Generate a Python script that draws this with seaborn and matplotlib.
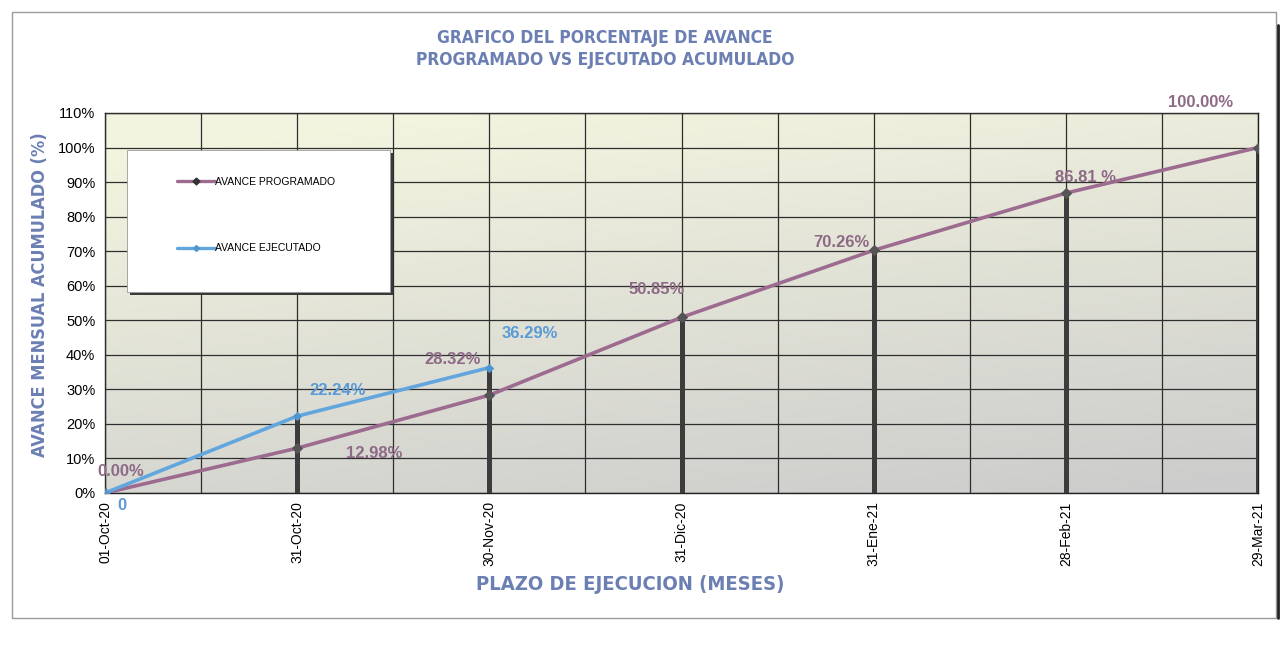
import numpy as np
import pandas as pd
import matplotlib
matplotlib.use("Agg")
import matplotlib.pyplot as plt
import seaborn as sns
from matplotlib.patches import Rectangle
from matplotlib.lines import Line2D
from matplotlib import font_manager as fm

# ---------------- data ----------------
fechas = ["01-Oct-20", "31-Oct-20", "30-Nov-20", "31-Dic-20",
          "31-Ene-21", "28-Feb-21", "29-Mar-21"]
programado = [0.00, 12.98, 28.32, 50.85, 70.26, 86.81, 100.00]
ejecutado = [0.00, 22.24, 36.29]
etiquetas_prog = ["0.00%", "12.98%", "28.32%", "50.85%", "70.26%", "86.81 %", "100.00%"]
etiquetas_ejec = ["0", "22.24%", "36.29%"]
y_ticks = [0, 10, 20, 30, 40, 50, 60, 70, 80, 90, 100, 110]

# label offsets (style): (dx in category units, dy in %)
off_prog = [(0.08, 6.1), (0.40, -1.6), (-0.19, 10.4), (-0.13, 8.1),
            (-0.17, 2.2), (0.10, 4.4), (-0.30, 13.0)]
off_ejec = [(0.09, -3.6), (0.21, 7.5), (0.21, 10.0)]

C_PROG = "#9c6b8f"
C_PROG_TXT = "#8d6a86"
C_EJEC = "#62a6de"
C_EJEC_TXT = "#5a9ad6"
C_TITLE = "#6b7fb3"

sns.set_theme(style="white")
plt.rcParams['font.family'] = ['Liberation Sans', 'DejaVu Sans']

# pick a condensed bold font if available
narrow_fp = None
for f in fm.fontManager.ttflist:
    nm = f.name + " " + str(f.fname)
    cond = ("Narrow" in nm or "Condensed" in nm or
            str(f.stretch) in ("condensed", "semi-condensed", "extra-condensed", "ultra-condensed"))
    bold = str(f.weight) in ("bold", "700", "heavy", "800", "900", "black")
    if cond and bold and "Oblique" not in nm and "Italic" not in nm:
        narrow_fp = f.fname
        break
if narrow_fp is not None:
    def tfp(size):
        return fm.FontProperties(fname=narrow_fp, size=size)
    scale = 1.0
else:
    def tfp(size):
        return fm.FontProperties(family="DejaVu Sans", weight="bold", size=size)
    scale = 0.85

fig = plt.figure(figsize=(12.85, 6.45), dpi=100)
fig.patch.set_facecolor("white")
ax = fig.add_axes([105 / 1285, 1 - 493 / 645, 1153 / 1285, 380 / 645])

n = len(fechas)

# gradient background of plot area
gy, gx = np.mgrid[0:1:200j, 0:1:300j]
t = np.clip(0.80 * gy + 0.30 * gx - 0.08, 0, 1)
c_top = np.array([0.955, 0.960, 0.875])
c_bot = np.array([0.800, 0.800, 0.800])
img = c_top[None, None, :] * (1 - t[..., None]) + c_bot[None, None, :] * t[..., None]
ax.imshow(img, extent=[0, n - 1, 0, 110], origin="upper", aspect="auto", zorder=0)
ax.set_xlim(0, n - 1)
ax.set_ylim(0, 110)

# grid
ax.set_xticks(np.arange(0, n, 1))
ax.set_xticks(np.arange(0.5, n - 1, 1), minor=True)
ax.set_yticks(y_ticks)
ax.grid(True, which="both", color="#2e2e2e", lw=0.9, zorder=1)
ax.set_axisbelow(False)

# drop lines from highest series to axis
tops = [max([programado[i]] + ([ejecutado[i]] if i < len(ejecutado) else []))
        for i in range(n)]
ax.vlines(range(1, n), 0, tops[1:], color="#3c3c3c", lw=3.6, zorder=3)

df_p = pd.DataFrame({"x": range(n), "y": programado})
df_e = pd.DataFrame({"x": range(len(ejecutado)), "y": ejecutado})
sns.lineplot(data=df_p, x="x", y="y", ax=ax, color=C_PROG, lw=2.6,
             marker="D", markersize=5.5, markerfacecolor="#555555",
             markeredgecolor="#555555", zorder=5)
sns.lineplot(data=df_e, x="x", y="y", ax=ax, color=C_EJEC, lw=2.6,
             marker="D", markersize=4.5, markerfacecolor="#4f95d0",
             markeredgecolor="#4f95d0", zorder=5)

for i, (v, lab) in enumerate(zip(programado, etiquetas_prog)):
    dx, dy = off_prog[i]
    ax.text(i + dx, v + dy, lab, color=C_PROG_TXT, fontsize=12, fontweight="bold",
            ha="center", va="center", zorder=6, clip_on=False)
for i, (v, lab) in enumerate(zip(ejecutado, etiquetas_ejec)):
    dx, dy = off_ejec[i]
    ax.text(i + dx, v + dy, lab, color=C_EJEC_TXT, fontsize=12, fontweight="bold",
            ha="center", va="center", zorder=6, clip_on=False)

# ticks
ax.set_xticklabels(fechas, rotation=90, fontsize=10, color="black")
ax.set_yticklabels([f"{v}%" for v in y_ticks], fontsize=10.5, color="black")
ax.tick_params(axis="both", which="major", length=4, width=0.9, color="#2e2e2e",
               direction="out", pad=3)
ax.tick_params(axis="x", which="minor", length=0)
ax.tick_params(axis="x", pad=2)
for sp in ax.spines.values():
    sp.set_color("#222222")
    sp.set_linewidth(1.0)
ax.set_xlabel("")
ax.set_ylabel("")

# axis titles & title
fig.text(630 / 1285, 1 - 585 / 645, "PLAZO DE EJECUCION (MESES)", ha="center", va="center",
         color=C_TITLE, fontproperties=tfp(14.5 * scale))
fig.text(40 / 1285, 1 - 295 / 645, "AVANCE MENSUAL ACUMULADO (%)", ha="center", va="center",
         rotation=90, color=C_TITLE, fontproperties=tfp(13 * scale))
fig.text(605 / 1285, 1 - 38 / 645, "GRAFICO DEL PORCENTAJE DE AVANCE", ha="center",
         va="center", color=C_TITLE, fontproperties=tfp(12.5 * scale))
fig.text(605 / 1285, 1 - 60 / 645, "PROGRAMADO VS EJECUTADO ACUMULADO", ha="center",
         va="center", color=C_TITLE, fontproperties=tfp(12.5 * scale))

# legend box with shadow
lx0, ly0, lw_, lh_ = 0.019, 0.529, 0.228, 0.374
ax.add_patch(Rectangle((lx0 + 0.003, ly0 - 0.009), lw_, lh_, transform=ax.transAxes,
                       facecolor="#3a3a3a", edgecolor="none", zorder=7))
ax.add_patch(Rectangle((lx0, ly0), lw_, lh_, transform=ax.transAxes,
                       facecolor="white", edgecolor="#999999", lw=0.6, zorder=8))
handles = [Line2D([], [], color=C_PROG, lw=2.4, marker="D", markersize=3.5,
                  markerfacecolor="#333333", markeredgecolor="#333333"),
           Line2D([], [], color=C_EJEC, lw=2.4, marker="D", markersize=3,
                  markerfacecolor="#4f95d0", markeredgecolor="#4f95d0")]
leg = ax.legend(handles, ["AVANCE PROGRAMADO", "AVANCE EJECUTADO"], loc="upper left",
                bbox_to_anchor=(0.058, 0.845), frameon=False, fontsize=7.5,
                handlelength=3.6, handletextpad=0.0, labelspacing=5.4, borderpad=0)
leg.set_zorder(9)
for txt in leg.get_texts():
    txt.set_color("black")

# page border of the scanned chart
fig.add_artist(Rectangle((12 / 1285, 1 - 618 / 645), 1264 / 1285, 606 / 645,
                         transform=fig.transFigure, fill=False, edgecolor="#9a9a9a",
                         lw=1.0))
fig.add_artist(Line2D([1278 / 1285, 1278 / 1285], [1 - 618 / 645, 1 - 25 / 645],
                      transform=fig.transFigure, color="#222222", lw=2.0))

fig.savefig("out.png", dpi=100, facecolor="white")
